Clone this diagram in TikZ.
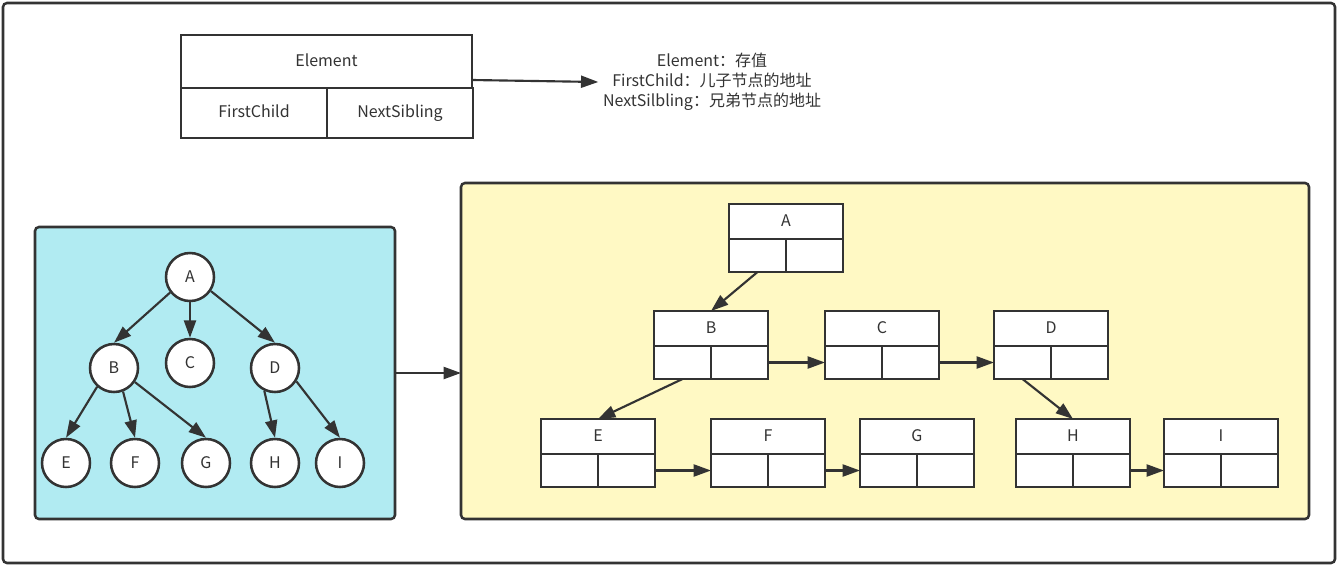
\documentclass[tikz,border=0pt]{standalone}
\usepackage{fontspec}
\setmainfont{Noto Sans CJK SC}
\usetikzlibrary{arrows.meta}
\definecolor{ink}{HTML}{333333}
\definecolor{treebg}{HTML}{B1EBF2}
\definecolor{listbg}{HTML}{FFF9C4}
\tikzset{
  ptr/.style={-{Triangle[length=13pt,width=9pt]}, line width=1.6pt, draw=ink},
  knot/.style={circle, draw=ink, fill=white, line width=1.9pt, minimum size=36pt, inner sep=0pt, text=ink},
  head/.style={rectangle, draw=ink, fill=white, line width=1.9pt, minimum width=85.5pt,
    minimum height=26.25pt, inner sep=0pt, outer sep=0pt, anchor=north west, text=ink,
    text height=7pt, text depth=0pt},
  cell/.style={rectangle, draw=ink, fill=white, line width=1.9pt, minimum width=42.75pt,
    minimum height=24.75pt, inner sep=0pt, outer sep=0pt, anchor=north west, text=ink,
    text height=7pt, text depth=0pt},
  panel/.style={draw=ink, line width=1.9pt, rounded corners=3pt, anchor=north west,
    inner sep=0pt, outer sep=0pt}
}
\begin{document}
\begin{tikzpicture}[x=0.75pt, y=-0.75pt, font=\fontsize{12}{15}\selectfont]
      \useasboundingbox (0,0) rectangle (1339,568);
      \node[panel, minimum width=999pt, minimum height=420pt] (frame) at (3,3) {};
      % node layout
      \node[head, minimum width=218.25pt, minimum height=39.75pt] (elem) at (181,35) {Element};
      \node[cell, minimum width=109.5pt, minimum height=37.5pt] (fc) at (elem.south west) {FirstChild};
      \node[cell, minimum width=109.5pt, minimum height=37.5pt] (ns) at (fc.north east) {NextSibling};
      \coordinate (elemout) at (472,80);
      \node[align=center, text=ink] (legend) at (712,82)
        {Element：存值\\FirstChild：儿子节点的地址\\NextSilbling：兄弟节点的地址};
      \draw[ptr] (elemout) to (legend.west);
      % the tree
      \node[panel, fill=treebg, minimum width=270pt, minimum height=219pt] (tree) at (35,227) {};
      \draw
        (190,277) node[knot] (a){A}
        (114,368) node[knot] (b){B}
        (190,363) node[knot] (c){C}
        (275,368) node[knot] (d){D}
        (66,463) node[knot] (e){E}
        (135,463) node[knot] (f){F}
        (206,463) node[knot] (g){G}
        (275,463) node[knot] (h){H}
        (340,463) node[knot] (i){I};
      \begin{scope}[ptr]
        \draw (a.218) to (b.north);
        \draw (a) to (c);
        \draw (a.326) to (d.north);
        \draw (b.228) to (e.north);
        \draw (b.291) to (f.north);
        \draw (b.326) to (g.north);
        \draw (d.245) to (h.north);
        \draw (d.328) to (i.north);
      \end{scope}
      % the child-sibling list
      \node[panel, fill=listbg, minimum width=636pt, minimum height=252pt] (list) at (461,183) {};
      \draw[ptr] (tree.east) to (tree.east -| list.west);
      \node[head] (A) at (729,204) {A};
      \node[cell] (A1) at (A.south west) {};
      \node[cell] (A2) at (A1.north east) {};
      \node[head] (B) at (654,311) {B};
      \node[cell] (B1) at (B.south west) {};
      \node[cell] (B2) at (B1.north east) {};
      \node[head] (C) at (825,311) {C};
      \node[cell] (C1) at (C.south west) {};
      \node[cell] (C2) at (C1.north east) {};
      \node[head] (D) at (994,311) {D};
      \node[cell] (D1) at (D.south west) {};
      \node[cell] (D2) at (D1.north east) {};
      \node[head] (E) at (541,419) {E};
      \node[cell] (E1) at (E.south west) {};
      \node[cell] (E2) at (E1.north east) {};
      \node[head] (F) at (711,419) {F};
      \node[cell] (F1) at (F.south west) {};
      \node[cell] (F2) at (F1.north east) {};
      \node[head] (G) at (860,419) {G};
      \node[cell] (G1) at (G.south west) {};
      \node[cell] (G2) at (G1.north east) {};
      \node[head] (H) at (1016,419) {H};
      \node[cell] (H1) at (H.south west) {};
      \node[cell] (H2) at (H1.north east) {};
      \node[head] (I) at (1164,419) {I};
      \node[cell] (I1) at (I.south west) {};
      \node[cell] (I2) at (I1.north east) {};
      \begin{scope}[ptr]
        \draw (A1.south) to (B.north);
        \draw (B1.south) to (E.north);
        \draw (D1.south) to (H.north);
        \draw (B2) to (C1);
        \draw (C2) to (D1);
        \draw (E2) to (F1);
        \draw (F2) to (G1);
        \draw (H2) to (I1);
      \end{scope}
    \end{tikzpicture}
\end{document}
